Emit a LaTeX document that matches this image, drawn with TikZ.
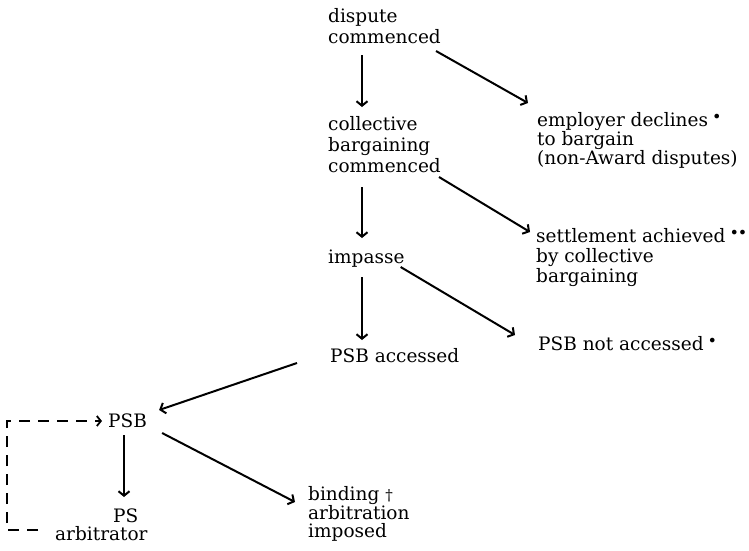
\documentclass[tikz,border=0pt]{standalone}
\usepackage{fontspec}
\setmainfont{DejaVu Serif}
\usetikzlibrary{arrows.meta}
% raised footnote signs after an outcome
\newcommand{\notesign}[1]{\hspace{4pt}\raisebox{0.4ex}{\fontsize{16}{16}\selectfont #1}}
\newcommand{\daggersign}{\ {\fontsize{15}{15}\selectfont †}}
\begin{document}
\begin{tikzpicture}[x=1pt,y=-1pt,
  txt/.style={inner sep=0pt, anchor=base west, align=left,
    font=\fontsize{18.5}{#1}\selectfont},
  txt/.default=20,
  arr/.style={line width=2pt, -{Straight Barb[length=4.5pt,width=11pt]}},
  back/.style={line width=1.8pt, dash pattern=on 11pt off 8pt,
    -{Straight Barb[length=4pt,width=10pt]}}]
\useasboundingbox (0,0) rectangle (749,550);

% main column of stages (each placed at the baseline of its last line)
\node[txt=21] (dispute)    at (328,43)  {dispute\\commenced};
\node[txt=21] (collective) at (328,172) {collective\\bargaining\\commenced};
\node[txt]    (impasse)    at (328,263) {impasse};
\node[txt]    (accessed)   at (330,362) {PSB accessed};

% outcomes on the right
\node[txt=19] (declines)   at (537,164) {employer declines\notesign{•}\\to bargain\\(non-Award disputes)};
\node[txt=20] (settled)    at (536,282) {settlement achieved\notesign{•\kern-1pt•}\\by collective\\bargaining};
\node[txt]    (notacc)     at (538,350) {PSB not accessed\notesign{•}};

% board and arbitration
\node[txt]    (psb)        at (108,427) {PSB};
\node[txt=18] (arb)        at (55,540)  {\hspace*{58pt}PS\\arbitrator};
\node[txt=17.5] (binding)  at (308,537) {binding\daggersign\\arbitration\\imposed};

% downward steps
\draw[arr] ([shift={(34,12)}]dispute.base west)    -- ([shift={(34,-65)}]collective.base west);
\draw[arr] ([shift={(34,15)}]collective.base west) -- ([shift={(34,-25)}]impasse.base west);
\draw[arr] ([shift={(34,14)}]impasse.base west)    -- ([shift={(32,-22)}]accessed.base west);
\draw[arr] ([shift={(16,8)}]psb.base west)         -- ([shift={(69,-43)}]arb.base west);

% diagonal branches
\draw[arr] ([shift={(-5,8)}]dispute.base east)    -- ([shift={(-9,-61)}]declines.base west);
\draw[arr] ([shift={(-2,5)}]collective.base east) -- ([shift={(-6,-50)}]settled.base west);
\draw[arr] ([shift={(-4,4)}]impasse.base east)    -- ([shift={(-23,-15)}]notacc.base west);
\draw[arr] ([shift={(-33,1)}]accessed.base west)  -- ([shift={(12,-17)}]psb.base east);
\draw[arr] ([shift={(15,6)}]psb.base east)        -- ([shift={(-13,-35)}]binding.base west);

% return path from the arbitrator back to the board
\draw[back] ([shift={(-17,-10)}]arb.base west) -- ++(-31,0) |- ([shift={(-6,-6)}]psb.base west);
\end{tikzpicture}
\end{document}
